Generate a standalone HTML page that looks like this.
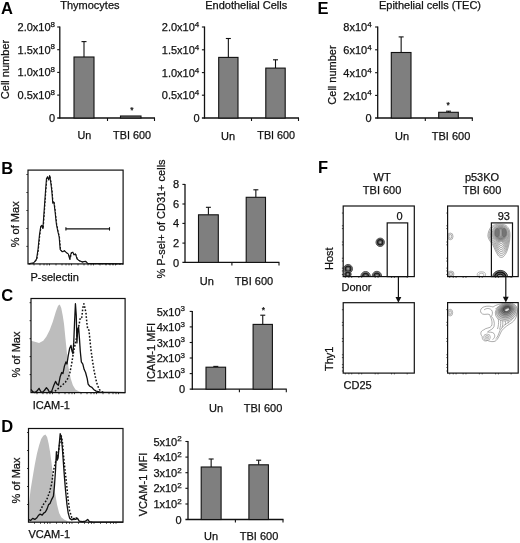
<!DOCTYPE html>
<html><head><meta charset="utf-8"><title>Figure</title>
<style>
html,body{margin:0;padding:0;background:#fff;}
body{width:520px;height:543px;overflow:hidden;font-family:"Liberation Sans",sans-serif;}
svg{display:block;will-change:transform;font-family:"Liberation Sans",sans-serif;}
</style></head><body>
<svg width="520" height="543" viewBox="0 0 520 543">
<rect width="520" height="543" fill="#ffffff"/>
<text x="1" y="13.8" font-size="16.5" text-anchor="start" font-weight="bold" fill="#000">A</text>
<text x="89.9" y="9.2" font-size="11" text-anchor="middle" font-weight="normal" fill="#111" stroke="#111" stroke-width="0.25">Thymocytes</text>
<text x="9.3" y="69.5" font-size="11" text-anchor="middle" font-weight="normal" fill="#111" stroke="#111" stroke-width="0.25" transform="rotate(-90 9.3 69.5)">Cell number</text>
<text x="55" y="31" font-size="11" text-anchor="end" fill="#111" stroke="#111" stroke-width="0.25">2.0x10<tspan font-size="8" dy="-4.3">8</tspan></text>
<text x="55" y="53.7" font-size="11" text-anchor="end" fill="#111" stroke="#111" stroke-width="0.25">1.5x10<tspan font-size="8" dy="-4.3">8</tspan></text>
<text x="55" y="76.4" font-size="11" text-anchor="end" fill="#111" stroke="#111" stroke-width="0.25">1.0x10<tspan font-size="8" dy="-4.3">8</tspan></text>
<text x="55" y="99.1" font-size="11" text-anchor="end" fill="#111" stroke="#111" stroke-width="0.25">0.5x10<tspan font-size="8" dy="-4.3">8</tspan></text>
<text x="55" y="122" font-size="11" text-anchor="end" font-weight="normal" fill="#111" stroke="#111" stroke-width="0.25">0</text>
<line x1="59.8" y1="26.5" x2="59.8" y2="118.6" stroke="#111" stroke-width="1.3"/>
<line x1="57.199999999999996" y1="118" x2="155" y2="118" stroke="#111" stroke-width="1.3"/>
<line x1="57.199999999999996" y1="27" x2="59.8" y2="27" stroke="#111" stroke-width="1.1"/>
<line x1="57.199999999999996" y1="49.7" x2="59.8" y2="49.7" stroke="#111" stroke-width="1.1"/>
<line x1="57.199999999999996" y1="72.4" x2="59.8" y2="72.4" stroke="#111" stroke-width="1.1"/>
<line x1="57.199999999999996" y1="95.1" x2="59.8" y2="95.1" stroke="#111" stroke-width="1.1"/>
<line x1="107.5" y1="118" x2="107.5" y2="121" stroke="#111" stroke-width="1.1"/>
<line x1="154.5" y1="118" x2="154.5" y2="121" stroke="#111" stroke-width="1.1"/>
<line x1="84.0" y1="41.6" x2="84.0" y2="57" stroke="#111" stroke-width="1.1"/>
<line x1="81.5" y1="41.6" x2="86.5" y2="41.6" stroke="#111" stroke-width="1.1"/>
<rect x="74" y="57" width="20" height="61" fill="#7f7f7f" stroke="#111" stroke-width="1.1"/>
<rect x="120.5" y="116" width="20.5" height="2" fill="#7f7f7f" stroke="#111" stroke-width="1.1"/>
<text x="131.8" y="113.2" font-size="8.5" text-anchor="middle" font-weight="normal" fill="#111" stroke="#111" stroke-width="0.25">*</text>
<text x="84.4" y="139.3" font-size="10.8" text-anchor="middle" font-weight="normal" fill="#111" stroke="#111" stroke-width="0.25">Un</text>
<text x="132" y="139.3" font-size="10.8" text-anchor="middle" font-weight="normal" fill="#111" stroke="#111" stroke-width="0.25">TBI 600</text>
<text x="246.2" y="9.2" font-size="11" text-anchor="middle" font-weight="normal" fill="#111" stroke="#111" stroke-width="0.25">Endothelial Cells</text>
<text x="199.3" y="31.2" font-size="11" text-anchor="end" fill="#111" stroke="#111" stroke-width="0.25">2.0x10<tspan font-size="8" dy="-4.3">4</tspan></text>
<text x="199.3" y="54.0" font-size="11" text-anchor="end" fill="#111" stroke="#111" stroke-width="0.25">1.5x10<tspan font-size="8" dy="-4.3">4</tspan></text>
<text x="199.3" y="76.8" font-size="11" text-anchor="end" fill="#111" stroke="#111" stroke-width="0.25">1.0x10<tspan font-size="8" dy="-4.3">4</tspan></text>
<text x="199.3" y="99.4" font-size="11" text-anchor="end" fill="#111" stroke="#111" stroke-width="0.25">0.5x10<tspan font-size="8" dy="-4.3">4</tspan></text>
<text x="199.5" y="122.2" font-size="11" text-anchor="end" font-weight="normal" fill="#111" stroke="#111" stroke-width="0.25">0</text>
<line x1="204.5" y1="26.5" x2="204.5" y2="118.6" stroke="#111" stroke-width="1.3"/>
<line x1="201.9" y1="118" x2="299" y2="118" stroke="#111" stroke-width="1.3"/>
<line x1="201.9" y1="27" x2="204.5" y2="27" stroke="#111" stroke-width="1.1"/>
<line x1="201.9" y1="49.8" x2="204.5" y2="49.8" stroke="#111" stroke-width="1.1"/>
<line x1="201.9" y1="72.6" x2="204.5" y2="72.6" stroke="#111" stroke-width="1.1"/>
<line x1="201.9" y1="95.2" x2="204.5" y2="95.2" stroke="#111" stroke-width="1.1"/>
<line x1="251.5" y1="118" x2="251.5" y2="121" stroke="#111" stroke-width="1.1"/>
<line x1="298.5" y1="118" x2="298.5" y2="121" stroke="#111" stroke-width="1.1"/>
<line x1="228.35" y1="38.5" x2="228.35" y2="57.4" stroke="#111" stroke-width="1.1"/>
<line x1="225.85" y1="38.5" x2="230.85" y2="38.5" stroke="#111" stroke-width="1.1"/>
<rect x="218.7" y="57.4" width="19.30000000000001" height="60.6" fill="#7f7f7f" stroke="#111" stroke-width="1.1"/>
<line x1="275.5" y1="59.8" x2="275.5" y2="68.1" stroke="#111" stroke-width="1.1"/>
<line x1="273.0" y1="59.8" x2="278.0" y2="59.8" stroke="#111" stroke-width="1.1"/>
<rect x="265.8" y="68.1" width="19.399999999999977" height="49.900000000000006" fill="#7f7f7f" stroke="#111" stroke-width="1.1"/>
<text x="228" y="139.5" font-size="11" text-anchor="middle" font-weight="normal" fill="#111" stroke="#111" stroke-width="0.25">Un</text>
<text x="276.2" y="139.3" font-size="10.8" text-anchor="middle" font-weight="normal" fill="#111" stroke="#111" stroke-width="0.25">TBI 600</text>
<text x="317.5" y="13.6" font-size="16.5" text-anchor="start" font-weight="bold" fill="#000">E</text>
<text x="430" y="9.2" font-size="11" text-anchor="middle" font-weight="normal" fill="#111" stroke="#111" stroke-width="0.25">Epithelial cells (TEC)</text>
<text x="336" y="75" font-size="11" text-anchor="middle" font-weight="normal" fill="#111" stroke="#111" stroke-width="0.25" transform="rotate(-90 336 75)">Cell number</text>
<text x="371.6" y="31.1" font-size="11" text-anchor="end" fill="#111" stroke="#111" stroke-width="0.25">8x10<tspan font-size="8" dy="-4.3">4</tspan></text>
<text x="371.6" y="53.9" font-size="11" text-anchor="end" fill="#111" stroke="#111" stroke-width="0.25">6x10<tspan font-size="8" dy="-4.3">4</tspan></text>
<text x="371.6" y="76.8" font-size="11" text-anchor="end" fill="#111" stroke="#111" stroke-width="0.25">4x10<tspan font-size="8" dy="-4.3">4</tspan></text>
<text x="371.6" y="99.5" font-size="11" text-anchor="end" fill="#111" stroke="#111" stroke-width="0.25">2x10<tspan font-size="8" dy="-4.3">4</tspan></text>
<text x="371.7" y="122.1" font-size="11" text-anchor="end" font-weight="normal" fill="#111" stroke="#111" stroke-width="0.25">0</text>
<line x1="377.7" y1="26.5" x2="377.7" y2="118.6" stroke="#111" stroke-width="1.3"/>
<line x1="375.09999999999997" y1="118" x2="472.8" y2="118" stroke="#111" stroke-width="1.3"/>
<line x1="375.09999999999997" y1="27" x2="377.7" y2="27" stroke="#111" stroke-width="1.1"/>
<line x1="375.09999999999997" y1="49.8" x2="377.7" y2="49.8" stroke="#111" stroke-width="1.1"/>
<line x1="375.09999999999997" y1="72.7" x2="377.7" y2="72.7" stroke="#111" stroke-width="1.1"/>
<line x1="375.09999999999997" y1="95.4" x2="377.7" y2="95.4" stroke="#111" stroke-width="1.1"/>
<line x1="425.3" y1="118" x2="425.3" y2="121" stroke="#111" stroke-width="1.1"/>
<line x1="472.3" y1="118" x2="472.3" y2="121" stroke="#111" stroke-width="1.1"/>
<line x1="401.15" y1="36.9" x2="401.15" y2="52.5" stroke="#111" stroke-width="1.1"/>
<line x1="398.65" y1="36.9" x2="403.65" y2="36.9" stroke="#111" stroke-width="1.1"/>
<rect x="391.3" y="52.5" width="19.69999999999999" height="65.5" fill="#7f7f7f" stroke="#111" stroke-width="1.1"/>
<line x1="448.5" y1="111.2" x2="448.5" y2="112.3" stroke="#111" stroke-width="1.1"/>
<line x1="446.0" y1="111.2" x2="451.0" y2="111.2" stroke="#111" stroke-width="1.1"/>
<rect x="438.7" y="112.3" width="19.600000000000023" height="5.700000000000003" fill="#7f7f7f" stroke="#111" stroke-width="1.1"/>
<text x="448.2" y="108" font-size="8.5" text-anchor="middle" font-weight="normal" fill="#111" stroke="#111" stroke-width="0.25">*</text>
<text x="402" y="139.5" font-size="11" text-anchor="middle" font-weight="normal" fill="#111" stroke="#111" stroke-width="0.25">Un</text>
<text x="451" y="139.5" font-size="11" text-anchor="middle" font-weight="normal" fill="#111" stroke="#111" stroke-width="0.25">TBI 600</text>
<text x="1.2" y="173.6" font-size="16.5" text-anchor="start" font-weight="bold" fill="#000">B</text>
<text x="19.5" y="224.3" font-size="11" text-anchor="middle" font-weight="normal" fill="#111" stroke="#111" stroke-width="0.25" transform="rotate(-90 19.5 224.3)">% of Max</text>
<text x="30.5" y="281" font-size="11" text-anchor="start" font-weight="normal" fill="#111" stroke="#111" stroke-width="0.25">P-selectin</text>
<rect x="28" y="170.1" width="95.1" height="93.79999999999998" fill="none" stroke="#111" stroke-width="1.2"/>
<path d="M28.86 264.09000000000003 L34.15 263.04 L36.9 259.44 L38.379999999999995 249.92000000000002 L39.86 235.11 L41.129999999999995 226.65 L42.19 225.59 L43.25 228.77 L44.309999999999995 213.96 L45.79 192.8 L46.839999999999996 179.05 L47.9 176.94 L48.96 180.11 L50.019999999999996 175.88000000000002 L51.07 182.22 L52.129999999999995 190.69 L53.19 203.38000000000002 L54.25 202.32000000000002 L55.309999999999995 210.78 L56.79 224.53 L58.059999999999995 230.88000000000002 L59.54 237.23000000000002 L60.589999999999996 249.92000000000002 L62.71 252.04000000000002 L64.83000000000001 250.98000000000002 L66.94000000000001 253.09 L68.63000000000001 254.15 L70.11 259.44 L71.60000000000001 253.09 L73.29 252.46 L74.35000000000001 255.21 L75.83000000000001 254.15 L77.52000000000001 259.44 L79.63000000000001 260.92 L82.81 262.19 L85.98 261.56 L88.10000000000001 263.67 L123.43 264.09000000000003" fill="none" stroke="#111" stroke-width="1.0" stroke-linejoin="round" stroke-dasharray="2 1.5"/>
<path d="M28.46 263.79 L33.75 262.74 L36.5 259.14 L37.98 249.62 L39.46 234.81 L40.73 226.35 L41.79 225.29 L42.85 228.47 L43.91 213.66 L45.39 192.5 L46.44 178.75 L47.5 176.64 L48.56 179.81 L49.62 175.58 L50.67 181.92 L51.73 190.39 L52.79 203.08 L53.85 202.02 L54.91 210.48 L56.39 224.23 L57.66 230.58 L59.14 236.93 L60.19 249.62 L62.31 251.74 L64.43 250.68 L66.54 252.79 L68.23 253.85 L69.71 259.14 L71.2 252.79 L72.89 252.16 L73.95 254.91 L75.43 253.85 L77.12 259.14 L79.23 260.62 L82.41 261.89 L85.58 261.26 L87.7 263.37 L123.03 263.79" fill="none" stroke="#111" stroke-width="1.1" stroke-linejoin="round"/>
<line x1="65.9" y1="228.9" x2="109.5" y2="228.9" stroke="#111" stroke-width="1.1"/>
<line x1="65.9" y1="227.2" x2="65.9" y2="230.6" stroke="#111" stroke-width="1.1"/>
<line x1="109.5" y1="227.2" x2="109.5" y2="230.6" stroke="#111" stroke-width="1.1"/>
<line x1="26.4" y1="174.5" x2="27.8" y2="174.5" stroke="#111" stroke-width="0.9"/>
<line x1="26.4" y1="192.5" x2="27.8" y2="192.5" stroke="#111" stroke-width="0.9"/>
<line x1="26.4" y1="210.5" x2="27.8" y2="210.5" stroke="#111" stroke-width="0.9"/>
<line x1="26.4" y1="228.5" x2="27.8" y2="228.5" stroke="#111" stroke-width="0.9"/>
<line x1="26.4" y1="246.4" x2="27.8" y2="246.4" stroke="#111" stroke-width="0.9"/>
<line x1="34" y1="263.8" x2="34" y2="265.4" stroke="#111" stroke-width="0.8"/>
<line x1="40" y1="263.8" x2="40" y2="265.4" stroke="#111" stroke-width="0.8"/>
<line x1="44" y1="263.8" x2="44" y2="265.4" stroke="#111" stroke-width="0.8"/>
<line x1="47" y1="263.8" x2="47" y2="265.4" stroke="#111" stroke-width="0.8"/>
<line x1="49.5" y1="263.8" x2="49.5" y2="265.4" stroke="#111" stroke-width="0.8"/>
<line x1="56" y1="263.8" x2="56" y2="265.4" stroke="#111" stroke-width="0.8"/>
<line x1="62" y1="263.8" x2="62" y2="265.4" stroke="#111" stroke-width="0.8"/>
<line x1="66" y1="263.8" x2="66" y2="265.4" stroke="#111" stroke-width="0.8"/>
<line x1="69" y1="263.8" x2="69" y2="265.4" stroke="#111" stroke-width="0.8"/>
<line x1="71.5" y1="263.8" x2="71.5" y2="265.4" stroke="#111" stroke-width="0.8"/>
<line x1="78" y1="263.8" x2="78" y2="265.4" stroke="#111" stroke-width="0.8"/>
<line x1="84" y1="263.8" x2="84" y2="265.4" stroke="#111" stroke-width="0.8"/>
<line x1="88" y1="263.8" x2="88" y2="265.4" stroke="#111" stroke-width="0.8"/>
<line x1="91" y1="263.8" x2="91" y2="265.4" stroke="#111" stroke-width="0.8"/>
<line x1="93.5" y1="263.8" x2="93.5" y2="265.4" stroke="#111" stroke-width="0.8"/>
<line x1="100" y1="263.8" x2="100" y2="265.4" stroke="#111" stroke-width="0.8"/>
<line x1="106" y1="263.8" x2="106" y2="265.4" stroke="#111" stroke-width="0.8"/>
<line x1="110" y1="263.8" x2="110" y2="265.4" stroke="#111" stroke-width="0.8"/>
<line x1="113" y1="263.8" x2="113" y2="265.4" stroke="#111" stroke-width="0.8"/>
<line x1="115.5" y1="263.8" x2="115.5" y2="265.4" stroke="#111" stroke-width="0.8"/>
<text x="179" y="188.4" font-size="11" text-anchor="end" font-weight="normal" fill="#111" stroke="#111" stroke-width="0.25">8</text>
<text x="179" y="208" font-size="11" text-anchor="end" font-weight="normal" fill="#111" stroke="#111" stroke-width="0.25">6</text>
<text x="179" y="227.4" font-size="11" text-anchor="end" font-weight="normal" fill="#111" stroke="#111" stroke-width="0.25">4</text>
<text x="179" y="247.1" font-size="11" text-anchor="end" font-weight="normal" fill="#111" stroke="#111" stroke-width="0.25">2</text>
<text x="179" y="266.5" font-size="11" text-anchor="end" font-weight="normal" fill="#111" stroke="#111" stroke-width="0.25">0</text>
<line x1="185" y1="183.9" x2="185" y2="263.0" stroke="#111" stroke-width="1.3"/>
<line x1="182.4" y1="262.4" x2="279.4" y2="262.4" stroke="#111" stroke-width="1.3"/>
<line x1="182.4" y1="184.4" x2="185" y2="184.4" stroke="#111" stroke-width="1.1"/>
<line x1="182.4" y1="204" x2="185" y2="204" stroke="#111" stroke-width="1.1"/>
<line x1="182.4" y1="223.4" x2="185" y2="223.4" stroke="#111" stroke-width="1.1"/>
<line x1="182.4" y1="243.1" x2="185" y2="243.1" stroke="#111" stroke-width="1.1"/>
<line x1="231.9" y1="262.4" x2="231.9" y2="265.4" stroke="#111" stroke-width="1.1"/>
<line x1="279" y1="262.4" x2="279" y2="265.4" stroke="#111" stroke-width="1.1"/>
<line x1="208.4" y1="207.3" x2="208.4" y2="214.8" stroke="#111" stroke-width="1.1"/>
<line x1="205.9" y1="207.3" x2="210.9" y2="207.3" stroke="#111" stroke-width="1.1"/>
<rect x="198.5" y="214.8" width="19.80000000000001" height="47.599999999999966" fill="#7f7f7f" stroke="#111" stroke-width="1.1"/>
<line x1="255.85" y1="189.8" x2="255.85" y2="197.3" stroke="#111" stroke-width="1.1"/>
<line x1="253.35" y1="189.8" x2="258.35" y2="189.8" stroke="#111" stroke-width="1.1"/>
<rect x="246.2" y="197.3" width="19.30000000000001" height="65.09999999999997" fill="#7f7f7f" stroke="#111" stroke-width="1.1"/>
<text x="206.8" y="284.7" font-size="11" text-anchor="middle" font-weight="normal" fill="#111" stroke="#111" stroke-width="0.25">Un</text>
<text x="253.9" y="284.7" font-size="11" text-anchor="middle" font-weight="normal" fill="#111" stroke="#111" stroke-width="0.25">TBI 600</text>
<text x="165.4" y="219" font-size="11" text-anchor="middle" font-weight="normal" fill="#111" stroke="#111" stroke-width="0.25" transform="rotate(-90 165.4 219)">% P-sel+ of CD31+ cells</text>
<text x="1.2" y="300.6" font-size="16.5" text-anchor="start" font-weight="bold" fill="#000">C</text>
<text x="19.5" y="354.5" font-size="11" text-anchor="middle" font-weight="normal" fill="#111" stroke="#111" stroke-width="0.25" transform="rotate(-90 19.5 354.5)">% of Max</text>
<text x="32.7" y="408.6" font-size="11" text-anchor="start" font-weight="normal" fill="#111" stroke="#111" stroke-width="0.25">ICAM-1</text>
<path d="M31.0 392.6 L31.0 340.77 L34.81 341.83 L39.04 342.89 L43.27 340.77 L46.44 336.54 L49.62 330.19 L52.79 321.73 L55.96 311.16 L58.08 305.87 L59.77 304.39 L61.25 307.98 L62.73 315.39 L64.0 323.85 L65.48 338.66 L66.96 353.47 L68.66 368.27 L70.77 378.85 L72.89 385.2 L75.43 389.43 L79.23 391.54 L83.47 392.6" fill="#bdbdbd" stroke="none" stroke-width="0" stroke-linejoin="round"/>
<path d="M51.73 392.6 L55.96 390.49 L59.14 387.74 L62.31 385.2 L65.48 382.02 L68.23 377.79 L69.93 372.5 L71.62 364.04 L73.31 353.47 L75.43 342.89 L77.54 332.31 L79.23 323.85 L80.29 317.5 L81.77 317.5 L82.83 307.98 L83.89 303.75 L84.95 307.98 L86.0 313.27 L86.85 322.79 L87.7 329.14 L88.97 330.19 L89.81 338.66 L90.87 349.23 L92.35 359.81 L94.04 370.39 L95.74 378.85 L97.43 385.2 L99.33 389.43 L101.45 391.54 L104.62 392.6" fill="none" stroke="#111" stroke-width="1.5" stroke-linejoin="round" stroke-dasharray="1.7 1.7"/>
<path d="M31.0 389.43 L32.69 391.54 L34.81 392.6 L36.92 391.12 L39.04 388.37 L40.73 391.54 L42.21 392.6 L44.33 390.49 L46.44 387.74 L47.92 389.43 L49.62 392.6 L51.73 391.12 L53.85 385.2 L55.54 381.39 L57.02 384.14 L58.5 385.2 L60.19 376.74 L61.68 372.5 L62.94 373.56 L64.43 366.16 L65.91 361.93 L66.96 364.04 L68.23 355.58 L69.71 348.18 L70.98 345.43 L72.04 351.35 L72.89 353.47 L73.73 342.89 L74.58 321.73 L75.43 303.75 L76.27 315.39 L76.91 342.89 L77.75 329.14 L78.6 327.02 L79.45 338.66 L80.29 351.35 L81.35 361.93 L82.83 364.04 L84.1 369.33 L85.58 372.5 L87.27 378.85 L88.12 384.14 L89.81 386.26 L91.93 387.31 L93.62 389.43 L96.16 391.12 L100.39 392.18 L125.14 392.6" fill="none" stroke="#111" stroke-width="1.3" stroke-linejoin="round"/>
<rect x="31" y="298.5" width="94.1" height="94.10000000000002" fill="none" stroke="#111" stroke-width="1.2"/>
<line x1="29.6" y1="302.7" x2="31" y2="302.7" stroke="#111" stroke-width="0.9"/>
<line x1="29.6" y1="320.7" x2="31" y2="320.7" stroke="#111" stroke-width="0.9"/>
<line x1="29.6" y1="338.7" x2="31" y2="338.7" stroke="#111" stroke-width="0.9"/>
<line x1="29.6" y1="356.6" x2="31" y2="356.6" stroke="#111" stroke-width="0.9"/>
<line x1="29.6" y1="374.6" x2="31" y2="374.6" stroke="#111" stroke-width="0.9"/>
<line x1="37" y1="392.6" x2="37" y2="394.2" stroke="#111" stroke-width="0.8"/>
<line x1="43" y1="392.6" x2="43" y2="394.2" stroke="#111" stroke-width="0.8"/>
<line x1="47" y1="392.6" x2="47" y2="394.2" stroke="#111" stroke-width="0.8"/>
<line x1="50" y1="392.6" x2="50" y2="394.2" stroke="#111" stroke-width="0.8"/>
<line x1="52.5" y1="392.6" x2="52.5" y2="394.2" stroke="#111" stroke-width="0.8"/>
<line x1="59" y1="392.6" x2="59" y2="394.2" stroke="#111" stroke-width="0.8"/>
<line x1="65" y1="392.6" x2="65" y2="394.2" stroke="#111" stroke-width="0.8"/>
<line x1="69" y1="392.6" x2="69" y2="394.2" stroke="#111" stroke-width="0.8"/>
<line x1="72" y1="392.6" x2="72" y2="394.2" stroke="#111" stroke-width="0.8"/>
<line x1="74.5" y1="392.6" x2="74.5" y2="394.2" stroke="#111" stroke-width="0.8"/>
<line x1="81" y1="392.6" x2="81" y2="394.2" stroke="#111" stroke-width="0.8"/>
<line x1="87" y1="392.6" x2="87" y2="394.2" stroke="#111" stroke-width="0.8"/>
<line x1="91" y1="392.6" x2="91" y2="394.2" stroke="#111" stroke-width="0.8"/>
<line x1="94" y1="392.6" x2="94" y2="394.2" stroke="#111" stroke-width="0.8"/>
<line x1="96.5" y1="392.6" x2="96.5" y2="394.2" stroke="#111" stroke-width="0.8"/>
<line x1="103" y1="392.6" x2="103" y2="394.2" stroke="#111" stroke-width="0.8"/>
<line x1="109" y1="392.6" x2="109" y2="394.2" stroke="#111" stroke-width="0.8"/>
<line x1="113" y1="392.6" x2="113" y2="394.2" stroke="#111" stroke-width="0.8"/>
<line x1="116" y1="392.6" x2="116" y2="394.2" stroke="#111" stroke-width="0.8"/>
<line x1="118.5" y1="392.6" x2="118.5" y2="394.2" stroke="#111" stroke-width="0.8"/>
<text x="185" y="315.5" font-size="11" text-anchor="end" fill="#111" stroke="#111" stroke-width="0.25">5x10<tspan font-size="8" dy="-4.3">3</tspan></text>
<text x="185" y="331.0" font-size="11" text-anchor="end" fill="#111" stroke="#111" stroke-width="0.25">4x10<tspan font-size="8" dy="-4.3">3</tspan></text>
<text x="185" y="346.6" font-size="11" text-anchor="end" fill="#111" stroke="#111" stroke-width="0.25">3x10<tspan font-size="8" dy="-4.3">3</tspan></text>
<text x="185" y="362.1" font-size="11" text-anchor="end" fill="#111" stroke="#111" stroke-width="0.25">2x10<tspan font-size="8" dy="-4.3">3</tspan></text>
<text x="185" y="377.70000000000005" font-size="11" text-anchor="end" fill="#111" stroke="#111" stroke-width="0.25">1x10<tspan font-size="8" dy="-4.3">3</tspan></text>
<text x="185.2" y="393.3" font-size="11" text-anchor="end" font-weight="normal" fill="#111" stroke="#111" stroke-width="0.25">0</text>
<line x1="192.3" y1="310.9" x2="192.3" y2="389.8" stroke="#111" stroke-width="1.3"/>
<line x1="189.70000000000002" y1="389.2" x2="286.8" y2="389.2" stroke="#111" stroke-width="1.3"/>
<line x1="189.70000000000002" y1="311.4" x2="192.3" y2="311.4" stroke="#111" stroke-width="1.1"/>
<line x1="189.70000000000002" y1="326.9" x2="192.3" y2="326.9" stroke="#111" stroke-width="1.1"/>
<line x1="189.70000000000002" y1="342.5" x2="192.3" y2="342.5" stroke="#111" stroke-width="1.1"/>
<line x1="189.70000000000002" y1="358" x2="192.3" y2="358" stroke="#111" stroke-width="1.1"/>
<line x1="189.70000000000002" y1="373.6" x2="192.3" y2="373.6" stroke="#111" stroke-width="1.1"/>
<line x1="239.4" y1="389.2" x2="239.4" y2="392.2" stroke="#111" stroke-width="1.1"/>
<line x1="286.3" y1="389.2" x2="286.3" y2="392.2" stroke="#111" stroke-width="1.1"/>
<line x1="215.8" y1="366.4" x2="215.8" y2="367.2" stroke="#111" stroke-width="1.1"/>
<line x1="213.3" y1="366.4" x2="218.3" y2="366.4" stroke="#111" stroke-width="1.1"/>
<rect x="206" y="367.2" width="19.599999999999994" height="22.0" fill="#7f7f7f" stroke="#111" stroke-width="1.1"/>
<line x1="262.75" y1="315.2" x2="262.75" y2="324.4" stroke="#111" stroke-width="1.1"/>
<line x1="260.25" y1="315.2" x2="265.25" y2="315.2" stroke="#111" stroke-width="1.1"/>
<rect x="253.1" y="324.4" width="19.299999999999983" height="64.80000000000001" fill="#7f7f7f" stroke="#111" stroke-width="1.1"/>
<text x="263.4" y="312.6" font-size="8.5" text-anchor="middle" font-weight="normal" fill="#111" stroke="#111" stroke-width="0.25">*</text>
<text x="216.1" y="411.8" font-size="11" text-anchor="middle" font-weight="normal" fill="#111" stroke="#111" stroke-width="0.25">Un</text>
<text x="263" y="411.8" font-size="11" text-anchor="middle" font-weight="normal" fill="#111" stroke="#111" stroke-width="0.25">TBI 600</text>
<text x="154.8" y="352.5" font-size="11" text-anchor="middle" font-weight="normal" fill="#111" stroke="#111" stroke-width="0.25" transform="rotate(-90 154.8 352.5)">ICAM-1 MFI</text>
<text x="1.2" y="431.8" font-size="16.5" text-anchor="start" font-weight="bold" fill="#000">D</text>
<text x="20" y="480.5" font-size="11" text-anchor="middle" font-weight="normal" fill="#111" stroke="#111" stroke-width="0.25" transform="rotate(-90 20 480.5)">% of Max</text>
<text x="28.5" y="538.3" font-size="11" text-anchor="start" font-weight="normal" fill="#111" stroke="#111" stroke-width="0.25">VCAM-1</text>
<path d="M28.46 522.18 L28.89 504.62 L30.58 489.81 L32.69 477.12 L34.81 464.43 L36.92 453.85 L39.04 445.39 L41.16 439.04 L43.27 435.87 L45.39 434.39 L47.08 436.92 L48.56 443.27 L50.04 451.73 L51.73 464.43 L53.43 479.23 L54.91 491.93 L57.02 504.62 L59.14 513.08 L61.25 517.31 L64.43 519.85 L68.66 521.54 L72.89 522.18" fill="#bdbdbd" stroke="none" stroke-width="0" stroke-linejoin="round"/>
<path d="M40.1 510.97 L43.27 504.62 L46.44 500.39 L49.62 491.93 L51.73 483.47 L53.43 470.77 L55.54 462.31 L57.66 455.96 L59.77 443.27 L61.25 435.87 L62.31 441.16 L63.37 453.85 L64.85 468.66 L66.54 483.47 L68.23 500.39 L69.71 510.97 L71.83 517.74 L73.95 519.43 L76.06 517.74 L78.18 519.43" fill="none" stroke="#111" stroke-width="1.5" stroke-linejoin="round" stroke-dasharray="1.7 1.7"/>
<path d="M28.46 519.43 L30.58 520.49 L32.69 518.37 L34.81 519.43 L36.92 517.74 L38.62 515.2 L40.1 514.14 L42.21 515.2 L43.69 513.08 L45.39 512.02 L47.08 508.85 L48.56 504.62 L50.04 503.56 L51.73 499.33 L53.43 496.16 L54.48 485.58 L55.54 469.71 L56.39 451.73 L57.23 460.19 L58.08 458.08 L59.14 445.39 L60.19 433.75 L61.25 436.92 L62.31 447.5 L63.37 462.31 L64.43 477.12 L65.48 489.81 L66.96 504.62 L68.23 513.08 L69.71 518.37 L71.83 519.85 L73.95 518.37 L75.43 519.43 L77.54 518.37 L79.23 521.12 L82.41 521.76 L85.58 521.12 L87.7 519.43 L89.39 521.54 L92.98 522.18 L123.03 522.18" fill="none" stroke="#111" stroke-width="1.3" stroke-linejoin="round"/>
<rect x="28.5" y="428.5" width="94.5" height="93.70000000000005" fill="none" stroke="#111" stroke-width="1.2"/>
<line x1="27.1" y1="432.5" x2="28.5" y2="432.5" stroke="#111" stroke-width="0.9"/>
<line x1="27.1" y1="450.5" x2="28.5" y2="450.5" stroke="#111" stroke-width="0.9"/>
<line x1="27.1" y1="468.5" x2="28.5" y2="468.5" stroke="#111" stroke-width="0.9"/>
<line x1="27.1" y1="486.5" x2="28.5" y2="486.5" stroke="#111" stroke-width="0.9"/>
<line x1="27.1" y1="504.5" x2="28.5" y2="504.5" stroke="#111" stroke-width="0.9"/>
<line x1="34.5" y1="522.2" x2="34.5" y2="523.8" stroke="#111" stroke-width="0.8"/>
<line x1="40.5" y1="522.2" x2="40.5" y2="523.8" stroke="#111" stroke-width="0.8"/>
<line x1="44.5" y1="522.2" x2="44.5" y2="523.8" stroke="#111" stroke-width="0.8"/>
<line x1="47.5" y1="522.2" x2="47.5" y2="523.8" stroke="#111" stroke-width="0.8"/>
<line x1="50" y1="522.2" x2="50" y2="523.8" stroke="#111" stroke-width="0.8"/>
<line x1="56.5" y1="522.2" x2="56.5" y2="523.8" stroke="#111" stroke-width="0.8"/>
<line x1="62.5" y1="522.2" x2="62.5" y2="523.8" stroke="#111" stroke-width="0.8"/>
<line x1="66.5" y1="522.2" x2="66.5" y2="523.8" stroke="#111" stroke-width="0.8"/>
<line x1="69.5" y1="522.2" x2="69.5" y2="523.8" stroke="#111" stroke-width="0.8"/>
<line x1="72" y1="522.2" x2="72" y2="523.8" stroke="#111" stroke-width="0.8"/>
<line x1="78.5" y1="522.2" x2="78.5" y2="523.8" stroke="#111" stroke-width="0.8"/>
<line x1="84.5" y1="522.2" x2="84.5" y2="523.8" stroke="#111" stroke-width="0.8"/>
<line x1="88.5" y1="522.2" x2="88.5" y2="523.8" stroke="#111" stroke-width="0.8"/>
<line x1="91.5" y1="522.2" x2="91.5" y2="523.8" stroke="#111" stroke-width="0.8"/>
<line x1="94" y1="522.2" x2="94" y2="523.8" stroke="#111" stroke-width="0.8"/>
<line x1="100.5" y1="522.2" x2="100.5" y2="523.8" stroke="#111" stroke-width="0.8"/>
<line x1="106.5" y1="522.2" x2="106.5" y2="523.8" stroke="#111" stroke-width="0.8"/>
<line x1="110.5" y1="522.2" x2="110.5" y2="523.8" stroke="#111" stroke-width="0.8"/>
<line x1="113.5" y1="522.2" x2="113.5" y2="523.8" stroke="#111" stroke-width="0.8"/>
<line x1="116" y1="522.2" x2="116" y2="523.8" stroke="#111" stroke-width="0.8"/>
<text x="181.7" y="445.6" font-size="11" text-anchor="end" fill="#111" stroke="#111" stroke-width="0.25">5x10<tspan font-size="8" dy="-4.3">2</tspan></text>
<text x="181.7" y="461.20000000000005" font-size="11" text-anchor="end" fill="#111" stroke="#111" stroke-width="0.25">4x10<tspan font-size="8" dy="-4.3">2</tspan></text>
<text x="181.7" y="476.8" font-size="11" text-anchor="end" fill="#111" stroke="#111" stroke-width="0.25">3x10<tspan font-size="8" dy="-4.3">2</tspan></text>
<text x="181.7" y="492.40000000000003" font-size="11" text-anchor="end" fill="#111" stroke="#111" stroke-width="0.25">2x10<tspan font-size="8" dy="-4.3">2</tspan></text>
<text x="181.7" y="508.1" font-size="11" text-anchor="end" fill="#111" stroke="#111" stroke-width="0.25">1x10<tspan font-size="8" dy="-4.3">2</tspan></text>
<text x="181.7" y="523.7" font-size="11" text-anchor="end" font-weight="normal" fill="#111" stroke="#111" stroke-width="0.25">0</text>
<line x1="188" y1="441.0" x2="188" y2="520.1" stroke="#111" stroke-width="1.3"/>
<line x1="185.4" y1="519.5" x2="283.5" y2="519.5" stroke="#111" stroke-width="1.3"/>
<line x1="185.4" y1="441.5" x2="188" y2="441.5" stroke="#111" stroke-width="1.1"/>
<line x1="185.4" y1="457.1" x2="188" y2="457.1" stroke="#111" stroke-width="1.1"/>
<line x1="185.4" y1="472.7" x2="188" y2="472.7" stroke="#111" stroke-width="1.1"/>
<line x1="185.4" y1="488.3" x2="188" y2="488.3" stroke="#111" stroke-width="1.1"/>
<line x1="185.4" y1="504" x2="188" y2="504" stroke="#111" stroke-width="1.1"/>
<line x1="235.4" y1="519.5" x2="235.4" y2="522.5" stroke="#111" stroke-width="1.1"/>
<line x1="283" y1="519.5" x2="283" y2="522.5" stroke="#111" stroke-width="1.1"/>
<line x1="211.14999999999998" y1="459" x2="211.14999999999998" y2="467" stroke="#111" stroke-width="1.1"/>
<line x1="208.64999999999998" y1="459" x2="213.64999999999998" y2="459" stroke="#111" stroke-width="1.1"/>
<rect x="201.2" y="467" width="19.900000000000006" height="52.5" fill="#7f7f7f" stroke="#111" stroke-width="1.1"/>
<line x1="258.65" y1="460.2" x2="258.65" y2="464.8" stroke="#111" stroke-width="1.1"/>
<line x1="256.15" y1="460.2" x2="261.15" y2="460.2" stroke="#111" stroke-width="1.1"/>
<rect x="248.9" y="464.8" width="19.49999999999997" height="54.69999999999999" fill="#7f7f7f" stroke="#111" stroke-width="1.1"/>
<text x="211" y="540.4" font-size="11" text-anchor="middle" font-weight="normal" fill="#111" stroke="#111" stroke-width="0.25">Un</text>
<text x="259" y="540.4" font-size="11" text-anchor="middle" font-weight="normal" fill="#111" stroke="#111" stroke-width="0.25">TBI 600</text>
<text x="146.6" y="484.5" font-size="11" text-anchor="middle" font-weight="normal" fill="#111" stroke="#111" stroke-width="0.25" transform="rotate(-90 146.6 484.5)">VCAM-1 MFI</text>
<text x="318" y="173.3" font-size="16.5" text-anchor="start" font-weight="bold" fill="#000">F</text>
<text x="382.1" y="181.1" font-size="11" text-anchor="middle" font-weight="normal" fill="#111" stroke="#111" stroke-width="0.25">WT</text>
<text x="382.1" y="193.7" font-size="11" text-anchor="middle" font-weight="normal" fill="#111" stroke="#111" stroke-width="0.25">TBI 600</text>
<text x="482" y="181.1" font-size="11" text-anchor="middle" font-weight="normal" fill="#111" stroke="#111" stroke-width="0.25">p53KO</text>
<text x="482" y="193.7" font-size="11" text-anchor="middle" font-weight="normal" fill="#111" stroke="#111" stroke-width="0.25">TBI 600</text>
<text x="333.2" y="258.7" font-size="11" text-anchor="middle" font-weight="normal" fill="#111" stroke="#111" stroke-width="0.25" transform="rotate(-90 333.2 258.7)">Host</text>
<text x="333.1" y="358.8" font-size="11" text-anchor="middle" font-weight="normal" fill="#111" stroke="#111" stroke-width="0.25" transform="rotate(-90 333.1 358.8)">Thy1</text>
<text x="341.5" y="291.3" font-size="11" text-anchor="start" font-weight="normal" fill="#111" stroke="#111" stroke-width="0.25">Donor</text>
<text x="343.5" y="388.8" font-size="11" text-anchor="start" font-weight="normal" fill="#111" stroke="#111" stroke-width="0.25">CD25</text>
<text x="399.6" y="220" font-size="11" text-anchor="middle" font-weight="normal" fill="#111" stroke="#111" stroke-width="0.25">0</text>
<text x="503.8" y="219.5" font-size="11" text-anchor="middle" font-weight="normal" fill="#111" stroke="#111" stroke-width="0.25">93</text>
<defs><clipPath id="cF1"><rect x="343.2" y="206" width="71.1" height="70.6"/></clipPath><clipPath id="cF2"><rect x="447.6" y="206" width="70.6" height="70.6"/></clipPath><clipPath id="cF4"><rect x="447.6" y="302.6" width="70.6" height="70.5"/></clipPath></defs>
<g clip-path="url(#cF1)"><circle cx="380.2" cy="242.3" r="4.2" fill="#808080" stroke="#505050" stroke-width="1"/><circle cx="380.2" cy="242.3" r="2.604" fill="#5c5c5c" stroke="#1e1e1e" stroke-width="1.2"/><circle cx="380.2" cy="242.3" r="0.8400000000000001" fill="#b0b0b0"/></g>
<g clip-path="url(#cF1)"><circle cx="348.1" cy="268.8" r="4.4" fill="#808080" stroke="#505050" stroke-width="1"/><circle cx="348.1" cy="268.8" r="2.728" fill="#5c5c5c" stroke="#1e1e1e" stroke-width="1.2"/><circle cx="348.1" cy="268.8" r="0.8800000000000001" fill="#b0b0b0"/></g>
<g clip-path="url(#cF1)"><circle cx="347.8" cy="274.2" r="3.4" fill="#808080" stroke="#505050" stroke-width="1"/><circle cx="347.8" cy="274.2" r="2.108" fill="#5c5c5c" stroke="#1e1e1e" stroke-width="1.2"/><circle cx="347.8" cy="274.2" r="0.68" fill="#b0b0b0"/></g>
<g clip-path="url(#cF1)"><circle cx="365.6" cy="276.2" r="4.7" fill="#808080" stroke="#505050" stroke-width="1"/><circle cx="365.6" cy="276.2" r="2.914" fill="#5c5c5c" stroke="#1e1e1e" stroke-width="1.2"/><circle cx="365.6" cy="276.2" r="0.9400000000000001" fill="#b0b0b0"/></g>
<g clip-path="url(#cF1)"><circle cx="376.9" cy="276" r="4.7" fill="#808080" stroke="#505050" stroke-width="1"/><circle cx="376.9" cy="276" r="2.914" fill="#5c5c5c" stroke="#1e1e1e" stroke-width="1.2"/><circle cx="376.9" cy="276" r="0.9400000000000001" fill="#b0b0b0"/></g>
<rect x="343.2" y="206" width="71.10000000000002" height="70.60000000000002" fill="none" stroke="#111" stroke-width="1.2"/>
<rect x="387.2" y="222.9" width="20.5" height="53.70000000000002" fill="none" stroke="#111" stroke-width="1.2"/>
<line x1="398.4" y1="277" x2="398.4" y2="298.8" stroke="#111" stroke-width="1.2"/>
<path d="M395.5 297.0 L401.29999999999995 297.0 L398.4 302.8 Z" fill="#111"/>
<line x1="505.8" y1="277" x2="505.8" y2="298.6" stroke="#111" stroke-width="1.2"/>
<path d="M502.90000000000003 296.8 L508.7 296.8 L505.8 302.6 Z" fill="#111"/>
<rect x="343.2" y="302.7" width="71.10000000000002" height="70.40000000000003" fill="none" stroke="#111" stroke-width="1.2"/>
<line x1="345.33299999999997" y1="276.6" x2="345.33299999999997" y2="277.90000000000003" stroke="#111" stroke-width="0.7"/>
<line x1="343.2" y1="274.482" x2="341.9" y2="274.482" stroke="#111" stroke-width="0.7"/>
<line x1="348.888" y1="276.6" x2="348.888" y2="277.90000000000003" stroke="#111" stroke-width="0.7"/>
<line x1="343.2" y1="270.952" x2="341.9" y2="270.952" stroke="#111" stroke-width="0.7"/>
<line x1="351.73199999999997" y1="276.6" x2="351.73199999999997" y2="277.90000000000003" stroke="#111" stroke-width="0.7"/>
<line x1="343.2" y1="268.12800000000004" x2="341.9" y2="268.12800000000004" stroke="#111" stroke-width="0.7"/>
<line x1="358.842" y1="276.6" x2="358.842" y2="277.90000000000003" stroke="#111" stroke-width="0.7"/>
<line x1="343.2" y1="261.06800000000004" x2="341.9" y2="261.06800000000004" stroke="#111" stroke-width="0.7"/>
<line x1="361.686" y1="276.6" x2="361.686" y2="277.90000000000003" stroke="#111" stroke-width="0.7"/>
<line x1="343.2" y1="258.244" x2="341.9" y2="258.244" stroke="#111" stroke-width="0.7"/>
<line x1="375.195" y1="276.6" x2="375.195" y2="277.90000000000003" stroke="#111" stroke-width="0.7"/>
<line x1="343.2" y1="244.83" x2="341.9" y2="244.83" stroke="#111" stroke-width="0.7"/>
<line x1="378.039" y1="276.6" x2="378.039" y2="277.90000000000003" stroke="#111" stroke-width="0.7"/>
<line x1="343.2" y1="242.00600000000003" x2="341.9" y2="242.00600000000003" stroke="#111" stroke-width="0.7"/>
<line x1="391.548" y1="276.6" x2="391.548" y2="277.90000000000003" stroke="#111" stroke-width="0.7"/>
<line x1="343.2" y1="228.592" x2="341.9" y2="228.592" stroke="#111" stroke-width="0.7"/>
<line x1="394.392" y1="276.6" x2="394.392" y2="277.90000000000003" stroke="#111" stroke-width="0.7"/>
<line x1="343.2" y1="225.768" x2="341.9" y2="225.768" stroke="#111" stroke-width="0.7"/>
<line x1="407.19" y1="276.6" x2="407.19" y2="277.90000000000003" stroke="#111" stroke-width="0.7"/>
<line x1="343.2" y1="213.06" x2="341.9" y2="213.06" stroke="#111" stroke-width="0.7"/>
<line x1="345.33299999999997" y1="373.1" x2="345.33299999999997" y2="374.40000000000003" stroke="#111" stroke-width="0.7"/>
<line x1="343.2" y1="370.988" x2="341.9" y2="370.988" stroke="#111" stroke-width="0.7"/>
<line x1="348.888" y1="373.1" x2="348.888" y2="374.40000000000003" stroke="#111" stroke-width="0.7"/>
<line x1="343.2" y1="367.468" x2="341.9" y2="367.468" stroke="#111" stroke-width="0.7"/>
<line x1="351.73199999999997" y1="373.1" x2="351.73199999999997" y2="374.40000000000003" stroke="#111" stroke-width="0.7"/>
<line x1="343.2" y1="364.65200000000004" x2="341.9" y2="364.65200000000004" stroke="#111" stroke-width="0.7"/>
<line x1="358.842" y1="373.1" x2="358.842" y2="374.40000000000003" stroke="#111" stroke-width="0.7"/>
<line x1="343.2" y1="357.612" x2="341.9" y2="357.612" stroke="#111" stroke-width="0.7"/>
<line x1="361.686" y1="373.1" x2="361.686" y2="374.40000000000003" stroke="#111" stroke-width="0.7"/>
<line x1="343.2" y1="354.796" x2="341.9" y2="354.796" stroke="#111" stroke-width="0.7"/>
<line x1="375.195" y1="373.1" x2="375.195" y2="374.40000000000003" stroke="#111" stroke-width="0.7"/>
<line x1="343.2" y1="341.42" x2="341.9" y2="341.42" stroke="#111" stroke-width="0.7"/>
<line x1="378.039" y1="373.1" x2="378.039" y2="374.40000000000003" stroke="#111" stroke-width="0.7"/>
<line x1="343.2" y1="338.604" x2="341.9" y2="338.604" stroke="#111" stroke-width="0.7"/>
<line x1="391.548" y1="373.1" x2="391.548" y2="374.40000000000003" stroke="#111" stroke-width="0.7"/>
<line x1="343.2" y1="325.228" x2="341.9" y2="325.228" stroke="#111" stroke-width="0.7"/>
<line x1="394.392" y1="373.1" x2="394.392" y2="374.40000000000003" stroke="#111" stroke-width="0.7"/>
<line x1="343.2" y1="322.412" x2="341.9" y2="322.412" stroke="#111" stroke-width="0.7"/>
<line x1="407.19" y1="373.1" x2="407.19" y2="374.40000000000003" stroke="#111" stroke-width="0.7"/>
<line x1="343.2" y1="309.74" x2="341.9" y2="309.74" stroke="#111" stroke-width="0.7"/>
<line x1="449.718" y1="276.6" x2="449.718" y2="277.90000000000003" stroke="#111" stroke-width="0.7"/>
<line x1="447.6" y1="274.482" x2="446.3" y2="274.482" stroke="#111" stroke-width="0.7"/>
<line x1="453.24800000000005" y1="276.6" x2="453.24800000000005" y2="277.90000000000003" stroke="#111" stroke-width="0.7"/>
<line x1="447.6" y1="270.952" x2="446.3" y2="270.952" stroke="#111" stroke-width="0.7"/>
<line x1="456.072" y1="276.6" x2="456.072" y2="277.90000000000003" stroke="#111" stroke-width="0.7"/>
<line x1="447.6" y1="268.12800000000004" x2="446.3" y2="268.12800000000004" stroke="#111" stroke-width="0.7"/>
<line x1="463.132" y1="276.6" x2="463.132" y2="277.90000000000003" stroke="#111" stroke-width="0.7"/>
<line x1="447.6" y1="261.06800000000004" x2="446.3" y2="261.06800000000004" stroke="#111" stroke-width="0.7"/>
<line x1="465.956" y1="276.6" x2="465.956" y2="277.90000000000003" stroke="#111" stroke-width="0.7"/>
<line x1="447.6" y1="258.244" x2="446.3" y2="258.244" stroke="#111" stroke-width="0.7"/>
<line x1="479.37" y1="276.6" x2="479.37" y2="277.90000000000003" stroke="#111" stroke-width="0.7"/>
<line x1="447.6" y1="244.83" x2="446.3" y2="244.83" stroke="#111" stroke-width="0.7"/>
<line x1="482.194" y1="276.6" x2="482.194" y2="277.90000000000003" stroke="#111" stroke-width="0.7"/>
<line x1="447.6" y1="242.00600000000003" x2="446.3" y2="242.00600000000003" stroke="#111" stroke-width="0.7"/>
<line x1="495.60800000000006" y1="276.6" x2="495.60800000000006" y2="277.90000000000003" stroke="#111" stroke-width="0.7"/>
<line x1="447.6" y1="228.592" x2="446.3" y2="228.592" stroke="#111" stroke-width="0.7"/>
<line x1="498.432" y1="276.6" x2="498.432" y2="277.90000000000003" stroke="#111" stroke-width="0.7"/>
<line x1="447.6" y1="225.768" x2="446.3" y2="225.768" stroke="#111" stroke-width="0.7"/>
<line x1="511.14000000000004" y1="276.6" x2="511.14000000000004" y2="277.90000000000003" stroke="#111" stroke-width="0.7"/>
<line x1="447.6" y1="213.06" x2="446.3" y2="213.06" stroke="#111" stroke-width="0.7"/>
<line x1="449.718" y1="373.1" x2="449.718" y2="374.40000000000003" stroke="#111" stroke-width="0.7"/>
<line x1="447.6" y1="370.985" x2="446.3" y2="370.985" stroke="#111" stroke-width="0.7"/>
<line x1="453.24800000000005" y1="373.1" x2="453.24800000000005" y2="374.40000000000003" stroke="#111" stroke-width="0.7"/>
<line x1="447.6" y1="367.46000000000004" x2="446.3" y2="367.46000000000004" stroke="#111" stroke-width="0.7"/>
<line x1="456.072" y1="373.1" x2="456.072" y2="374.40000000000003" stroke="#111" stroke-width="0.7"/>
<line x1="447.6" y1="364.64000000000004" x2="446.3" y2="364.64000000000004" stroke="#111" stroke-width="0.7"/>
<line x1="463.132" y1="373.1" x2="463.132" y2="374.40000000000003" stroke="#111" stroke-width="0.7"/>
<line x1="447.6" y1="357.59000000000003" x2="446.3" y2="357.59000000000003" stroke="#111" stroke-width="0.7"/>
<line x1="465.956" y1="373.1" x2="465.956" y2="374.40000000000003" stroke="#111" stroke-width="0.7"/>
<line x1="447.6" y1="354.77000000000004" x2="446.3" y2="354.77000000000004" stroke="#111" stroke-width="0.7"/>
<line x1="479.37" y1="373.1" x2="479.37" y2="374.40000000000003" stroke="#111" stroke-width="0.7"/>
<line x1="447.6" y1="341.375" x2="446.3" y2="341.375" stroke="#111" stroke-width="0.7"/>
<line x1="482.194" y1="373.1" x2="482.194" y2="374.40000000000003" stroke="#111" stroke-width="0.7"/>
<line x1="447.6" y1="338.555" x2="446.3" y2="338.555" stroke="#111" stroke-width="0.7"/>
<line x1="495.60800000000006" y1="373.1" x2="495.60800000000006" y2="374.40000000000003" stroke="#111" stroke-width="0.7"/>
<line x1="447.6" y1="325.16" x2="446.3" y2="325.16" stroke="#111" stroke-width="0.7"/>
<line x1="498.432" y1="373.1" x2="498.432" y2="374.40000000000003" stroke="#111" stroke-width="0.7"/>
<line x1="447.6" y1="322.34000000000003" x2="446.3" y2="322.34000000000003" stroke="#111" stroke-width="0.7"/>
<line x1="511.14000000000004" y1="373.1" x2="511.14000000000004" y2="374.40000000000003" stroke="#111" stroke-width="0.7"/>
<line x1="447.6" y1="309.65000000000003" x2="446.3" y2="309.65000000000003" stroke="#111" stroke-width="0.7"/>
<g clip-path="url(#cF2)">
<path d="M500.50 224.20 C502.23 224.35 504.53 224.53 506.00 225.50 C507.47 226.47 508.63 228.25 509.30 230.00 C509.97 231.75 510.05 233.67 510.00 236.00 C509.95 238.33 509.53 241.42 509.00 244.00 C508.47 246.58 507.67 249.45 506.80 251.50 C505.93 253.55 504.73 255.32 503.80 256.30 C502.87 257.28 502.07 257.45 501.20 257.40 C500.33 257.35 499.53 257.07 498.60 256.00 C497.67 254.93 496.60 252.92 495.60 251.00 C494.60 249.08 493.60 246.25 492.60 244.50 C491.60 242.75 490.38 241.92 489.60 240.50 C488.82 239.08 488.00 237.67 487.90 236.00 C487.80 234.33 488.38 232.08 489.00 230.50 C489.62 228.92 490.50 227.48 491.60 226.50 C492.70 225.52 494.12 224.98 495.60 224.60 C497.08 224.22 498.77 224.05 500.50 224.20 Z" fill="#f6f6f6" stroke="#666" stroke-width="0.55"/>
<path d="M500.54 225.29 C502.11 225.42 504.20 225.59 505.53 226.47 C506.86 227.34 507.92 228.96 508.53 230.55 C509.13 232.14 509.21 233.88 509.16 236.00 C509.12 238.12 508.74 240.92 508.25 243.26 C507.77 245.61 507.04 248.21 506.26 250.07 C505.47 251.94 504.38 253.54 503.53 254.43 C502.69 255.33 501.96 255.48 501.17 255.43 C500.39 255.39 499.66 255.13 498.81 254.16 C497.96 253.19 497.00 251.36 496.09 249.62 C495.18 247.88 494.27 245.31 493.36 243.72 C492.46 242.13 491.35 241.37 490.64 240.09 C489.93 238.80 489.19 237.51 489.10 236.00 C489.01 234.49 489.53 232.44 490.09 231.01 C490.65 229.57 491.46 228.27 492.46 227.37 C493.45 226.48 494.74 226.00 496.09 225.65 C497.43 225.30 498.96 225.15 500.54 225.29 Z" fill="none" stroke="#666" stroke-width="0.55"/>
<path d="M500.57 226.37 C501.99 226.49 503.86 226.64 505.06 227.43 C506.26 228.22 507.21 229.68 507.75 231.10 C508.30 232.53 508.37 234.10 508.33 236.00 C508.28 237.90 507.94 240.42 507.51 242.53 C507.07 244.64 506.42 246.98 505.71 248.65 C505.01 250.32 504.03 251.76 503.27 252.56 C502.50 253.37 501.85 253.50 501.14 253.46 C500.44 253.42 499.78 253.19 499.02 252.32 C498.26 251.45 497.39 249.80 496.58 248.24 C495.76 246.68 494.94 244.36 494.13 242.94 C493.31 241.51 492.32 240.83 491.68 239.67 C491.04 238.52 490.37 237.36 490.29 236.00 C490.21 234.64 490.69 232.80 491.19 231.51 C491.69 230.22 492.41 229.05 493.31 228.25 C494.21 227.45 495.36 227.01 496.58 226.70 C497.79 226.38 499.16 226.25 500.57 226.37 Z" fill="none" stroke="#666" stroke-width="0.55"/>
<path d="M500.61 227.46 C501.87 227.57 503.53 227.70 504.59 228.40 C505.65 229.10 506.50 230.39 506.98 231.66 C507.46 232.92 507.52 234.31 507.49 236.00 C507.45 237.69 507.15 239.92 506.76 241.79 C506.38 243.66 505.80 245.74 505.17 247.22 C504.54 248.71 503.68 249.99 503.00 250.70 C502.32 251.41 501.74 251.53 501.12 251.49 C500.49 251.46 499.91 251.25 499.23 250.48 C498.56 249.71 497.79 248.25 497.06 246.86 C496.34 245.47 495.61 243.42 494.89 242.15 C494.17 240.89 493.29 240.28 492.72 239.26 C492.15 238.23 491.56 237.21 491.49 236.00 C491.42 234.79 491.84 233.16 492.28 232.02 C492.73 230.87 493.37 229.83 494.17 229.12 C494.96 228.41 495.99 228.02 497.06 227.75 C498.14 227.47 499.36 227.35 500.61 227.46 Z" fill="none" stroke="#666" stroke-width="0.55"/>
<path d="M500.65 228.54 C501.74 228.64 503.20 228.75 504.12 229.36 C505.05 229.97 505.79 231.10 506.21 232.21 C506.63 233.31 506.68 234.53 506.65 236.00 C506.62 237.47 506.36 239.42 506.02 241.06 C505.68 242.69 505.18 244.50 504.63 245.80 C504.08 247.09 503.32 248.21 502.73 248.83 C502.14 249.45 501.64 249.56 501.09 249.52 C500.54 249.49 500.04 249.31 499.45 248.64 C498.86 247.97 498.18 246.69 497.55 245.48 C496.92 244.27 496.29 242.48 495.65 241.37 C495.02 240.27 494.25 239.74 493.76 238.84 C493.26 237.95 492.75 237.05 492.68 236.00 C492.62 234.95 492.99 233.52 493.38 232.52 C493.77 231.52 494.33 230.62 495.02 230.00 C495.72 229.37 496.61 229.04 497.55 228.80 C498.49 228.55 499.55 228.45 500.65 228.54 Z" fill="none" stroke="#666" stroke-width="0.55"/>
<path d="M500.68 229.63 C501.62 229.71 502.86 229.81 503.65 230.33 C504.45 230.85 505.08 231.81 505.44 232.76 C505.80 233.70 505.84 234.74 505.81 236.00 C505.79 237.26 505.56 238.92 505.27 240.32 C504.99 241.72 504.55 243.26 504.09 244.37 C503.62 245.48 502.97 246.43 502.47 246.96 C501.96 247.49 501.53 247.58 501.06 247.56 C500.59 247.53 500.16 247.38 499.66 246.80 C499.15 246.22 498.58 245.13 498.04 244.10 C497.50 243.06 496.96 241.53 496.42 240.59 C495.88 239.65 495.22 239.19 494.80 238.43 C494.38 237.67 493.93 236.90 493.88 236.00 C493.83 235.10 494.14 233.88 494.47 233.03 C494.81 232.18 495.28 231.40 495.88 230.87 C496.47 230.34 497.24 230.05 498.04 229.84 C498.84 229.64 499.75 229.55 500.68 229.63 Z" fill="none" stroke="#666" stroke-width="0.55"/>
<path d="M500.72 230.71 C501.50 230.78 502.53 230.86 503.18 231.30 C503.84 231.73 504.36 232.53 504.66 233.31 C504.96 234.10 505.00 234.95 504.98 236.00 C504.95 237.05 504.77 238.43 504.53 239.58 C504.29 240.74 503.93 242.03 503.54 242.94 C503.15 243.86 502.62 244.65 502.20 245.09 C501.78 245.53 501.42 245.61 501.03 245.59 C500.65 245.56 500.29 245.44 499.87 244.96 C499.45 244.48 498.97 243.58 498.53 242.72 C498.08 241.86 497.63 240.59 497.18 239.81 C496.73 239.02 496.19 238.65 495.84 238.02 C495.49 237.38 495.12 236.75 495.08 236.00 C495.03 235.25 495.29 234.25 495.57 233.54 C495.85 232.83 496.24 232.18 496.73 231.74 C497.23 231.30 497.86 231.06 498.53 230.89 C499.19 230.72 499.94 230.65 500.72 230.71 Z" fill="none" stroke="#666" stroke-width="0.55"/>
<path d="M500.76 231.80 C501.37 231.85 502.19 231.92 502.72 232.26 C503.24 232.61 503.65 233.24 503.89 233.86 C504.13 234.49 504.16 235.17 504.14 236.00 C504.12 236.83 503.97 237.93 503.78 238.85 C503.59 239.77 503.31 240.79 503.00 241.52 C502.69 242.25 502.26 242.88 501.93 243.23 C501.60 243.58 501.32 243.64 501.01 243.62 C500.70 243.60 500.41 243.50 500.08 243.12 C499.75 242.74 499.37 242.02 499.01 241.34 C498.66 240.66 498.30 239.65 497.95 239.03 C497.59 238.40 497.16 238.11 496.88 237.60 C496.60 237.10 496.31 236.59 496.27 236.00 C496.24 235.41 496.44 234.61 496.66 234.04 C496.88 233.48 497.20 232.97 497.59 232.62 C497.98 232.27 498.49 232.08 499.01 231.94 C499.54 231.81 500.14 231.75 500.76 231.80 Z" fill="none" stroke="#666" stroke-width="0.55"/>
<ellipse cx="500.6" cy="233.6" rx="7.9" ry="8.3" transform="rotate(0 500.6 233.6)" fill="#d6d6d6" stroke="#808080" stroke-width="0.5" opacity="1"/>
<ellipse cx="500.6" cy="233.6" rx="7.0" ry="7.5" transform="rotate(0 500.6 233.6)" fill="#c2c2c2" stroke="#777" stroke-width="0.5" opacity="1"/>
<ellipse cx="500.6" cy="233.6" rx="6.1" ry="6.7" transform="rotate(0 500.6 233.6)" fill="#aeaeae" stroke="#707070" stroke-width="0.5" opacity="1"/>
<ellipse cx="500.6" cy="233.6" rx="5.2" ry="5.9" transform="rotate(0 500.6 233.6)" fill="#9c9c9c" stroke="#6a6a6a" stroke-width="0.5" opacity="1"/>
<ellipse cx="500.6" cy="233.6" rx="4.3" ry="5.1" transform="rotate(0 500.6 233.6)" fill="#8e8e8e" stroke="#646464" stroke-width="0.5" opacity="1"/>
<ellipse cx="497.2" cy="232.6" rx="2.2" ry="4.2" transform="rotate(0 497.2 232.6)" fill="#757575" stroke="#5c5c5c" stroke-width="0.4" opacity="1"/>
<ellipse cx="504.2" cy="232.6" rx="2.2" ry="4.2" transform="rotate(0 504.2 232.6)" fill="#757575" stroke="#5c5c5c" stroke-width="0.4" opacity="1"/>
<ellipse cx="500.7" cy="233" rx="0.8" ry="3.6" fill="#a4a4a4"/>
<ellipse cx="450.3" cy="236.4" rx="2.8" ry="3.4" transform="rotate(0 450.3 236.4)" fill="#eee" stroke="#777" stroke-width="0.5" opacity="1"/>
<ellipse cx="450.3" cy="236.4" rx="1.5" ry="2" transform="rotate(0 450.3 236.4)" fill="none" stroke="#777" stroke-width="0.5" opacity="1"/>
<ellipse cx="450.8" cy="274" rx="3.2" ry="3" transform="rotate(0 450.8 274)" fill="#ddd" stroke="#777" stroke-width="0.5" opacity="1"/>
<ellipse cx="450.8" cy="274" rx="1.8" ry="1.6" transform="rotate(0 450.8 274)" fill="none" stroke="#777" stroke-width="0.5" opacity="1"/>
<ellipse cx="481.4" cy="274.8" rx="4.2" ry="3" transform="rotate(0 481.4 274.8)" fill="none" stroke="#777" stroke-width="0.5" opacity="1"/>
<ellipse cx="481.4" cy="275" rx="2.6" ry="1.8" transform="rotate(0 481.4 275)" fill="none" stroke="#777" stroke-width="0.5" opacity="1"/>
<ellipse cx="500.2" cy="276.6" rx="7.4" ry="6.2" transform="rotate(0 500.2 276.6)" fill="#8a8a8a" stroke="#222" stroke-width="0.9" opacity="1"/>
<ellipse cx="500.2" cy="276.8" rx="5.6" ry="4.6" transform="rotate(0 500.2 276.8)" fill="#555" stroke="#111" stroke-width="1.2" opacity="1"/>
<ellipse cx="500.2" cy="277" rx="3.4" ry="2.8" transform="rotate(0 500.2 277)" fill="#999" stroke="#111" stroke-width="1" opacity="1"/>
</g>
<rect x="447.6" y="206" width="70.60000000000002" height="70.60000000000002" fill="none" stroke="#111" stroke-width="1.2"/>
<rect x="491.4" y="222.9" width="21.100000000000023" height="53.70000000000002" fill="none" stroke="#111" stroke-width="1.2"/>
<g clip-path="url(#cF4)">
<path d="M481 309 C483 306 489 305.5 493 307 C498 303 512 301.5 516 306 C518.5 311 517 319 512 322.5 C508 325 504 327.5 501.5 331 C499 336 497.5 341 494 341.5 C491 342 489 341 487.5 340.5 C484 342 482 339.5 482.2 336.5 C480 334 480.5 331 483.5 330 C486 327.5 490 328.5 491.5 326 C493 322 491 318 489.5 314.5 C487.5 313.5 484.5 315 482.5 314 C480.5 313 480 311 481 309 Z" fill="none" stroke="#808080" stroke-width="0.65"/>
<path d="M484 310 C486 308 489.5 308 491.5 310 C493 312 492.5 314 491.5 316.5 C493.5 318.5 495 322.5 494 326.5 C493 329.5 489.5 330 487.5 332 C489 332.5 492 331.5 494 333.5 C495.5 336 494.5 338.5 492.5 339.5" fill="none" stroke="#808080" stroke-width="0.65"/>
<path d="M495.5 309 C498 305 511 303.5 514.5 307.5 C516.5 312 514.5 318 510.5 321 C506.5 323.5 502 326.5 500 330.5 C498.5 334 497.5 338 495.5 339" fill="none" stroke="#808080" stroke-width="0.65"/>
<path d="M496 312 C498.5 317 499.5 323 497.5 329 M498.5 314 C501 319 501.5 324 499.5 329.5 M501 316 C503 320 503.5 324 502 327.5 M503.5 317.5 C505.5 320.5 506 323 505 325 M506.5 318.5 C508 320.5 508.5 322 508 323.5" fill="none" stroke="#808080" stroke-width="0.65"/>
<ellipse cx="487" cy="337.2" rx="3.4" ry="3.2" transform="rotate(0 487 337.2)" fill="none" stroke="#777" stroke-width="0.5" opacity="1"/>
<ellipse cx="487" cy="337.2" rx="1.9" ry="1.8" transform="rotate(0 487 337.2)" fill="none" stroke="#777" stroke-width="0.5" opacity="1"/>
<ellipse cx="487" cy="337.2" rx="0.6" ry="0.6" transform="rotate(0 487 337.2)" fill="none" stroke="#777" stroke-width="0.5" opacity="1"/>
<ellipse cx="506.3" cy="311.79999999999995" rx="11.3" ry="9.0" transform="rotate(-20 506.3 311.79999999999995)" fill="#e4e4e4" stroke="#808080" stroke-width="0.5" opacity="1"/>
<ellipse cx="506.3" cy="311.29999999999995" rx="10.0" ry="7.9" transform="rotate(-20 506.3 311.29999999999995)" fill="#d2d2d2" stroke="#777" stroke-width="0.5" opacity="1"/>
<ellipse cx="506.40000000000003" cy="310.79999999999995" rx="8.7" ry="6.8" transform="rotate(-20 506.40000000000003 310.79999999999995)" fill="#bebebe" stroke="#6e6e6e" stroke-width="0.5" opacity="1"/>
<ellipse cx="506.40000000000003" cy="310.29999999999995" rx="7.4" ry="5.7" transform="rotate(-20 506.40000000000003 310.29999999999995)" fill="#a6a6a6" stroke="#666" stroke-width="0.5" opacity="1"/>
<ellipse cx="506.5" cy="309.79999999999995" rx="6.1" ry="4.6" transform="rotate(-20 506.5 309.79999999999995)" fill="#8c8c8c" stroke="#5c5c5c" stroke-width="0.5" opacity="1"/>
<ellipse cx="506.5" cy="309.4" rx="4.8" ry="3.5" transform="rotate(-20 506.5 309.4)" fill="#727272" stroke="#4c4c4c" stroke-width="0.5" opacity="1"/>
<ellipse cx="506.6" cy="309.0" rx="3.5" ry="2.4" transform="rotate(-20 506.6 309.0)" fill="#5a5a5a" stroke="#3c3c3c" stroke-width="0.5" opacity="1"/>
<ellipse cx="507.1" cy="309.8" rx="2.1" ry="0.9" transform="rotate(-20 507.1 309.8)" fill="#e6e6e6" stroke="#d0d0d0" stroke-width="0.4" opacity="1"/>
<ellipse cx="450.1" cy="312.6" rx="2.6" ry="3.4" transform="rotate(0 450.1 312.6)" fill="#eee" stroke="#777" stroke-width="0.5" opacity="1"/>
<ellipse cx="450.1" cy="312.6" rx="1.3" ry="1.9" transform="rotate(0 450.1 312.6)" fill="none" stroke="#777" stroke-width="0.5" opacity="1"/>
</g>
<rect x="447.6" y="302.6" width="70.60000000000002" height="70.5" fill="none" stroke="#111" stroke-width="1.2"/>
</svg>
</body></html>
